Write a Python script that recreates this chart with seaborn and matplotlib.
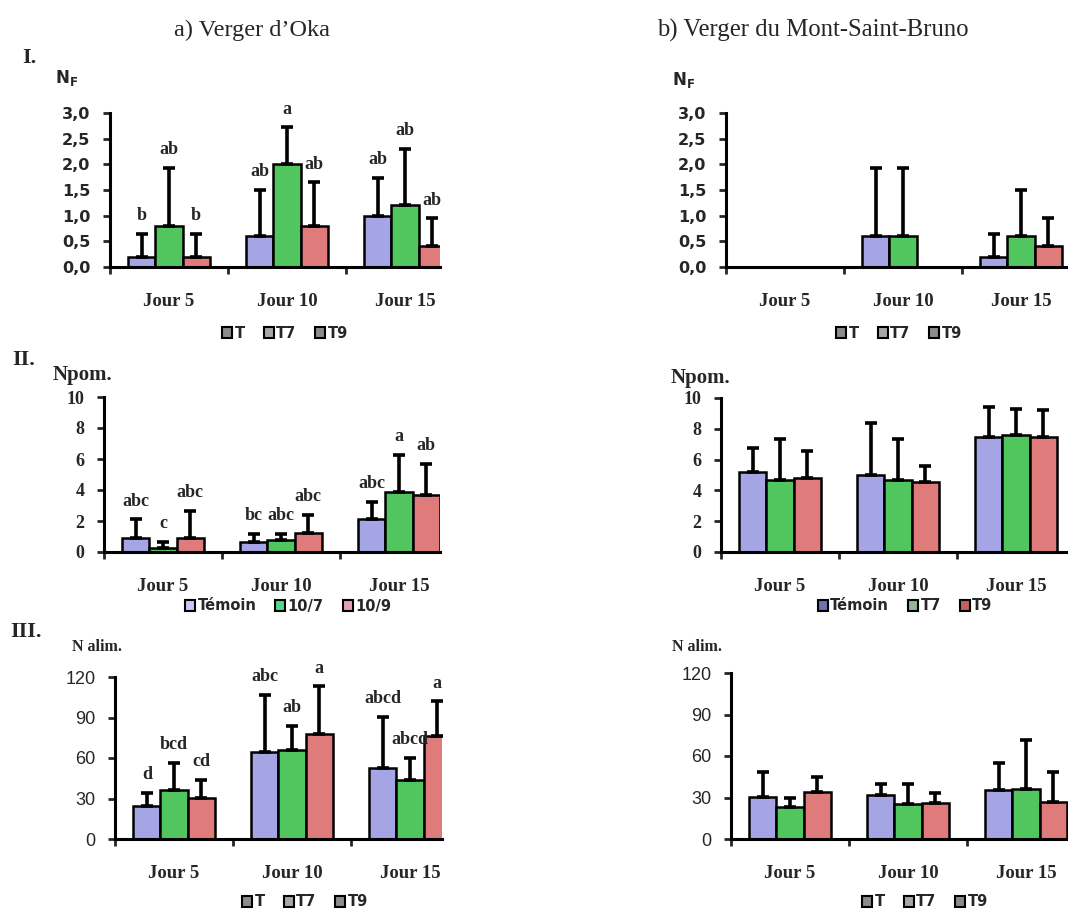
import numpy as np
import pandas as pd
import matplotlib
matplotlib.use("Agg")
import matplotlib.pyplot as plt
from matplotlib.patches import Patch
from matplotlib.ticker import FuncFormatter
import seaborn as sns

# categories / treatments
jours = ["Jour 5", "Jour 10", "Jour 15"]
trts = ["T", "T7", "T9"]

# I. N_F -- a) Oka
nf_oka_T = [0.2, 0.6, 1.0]
nf_oka_T7 = [0.8, 2.0, 1.2]
nf_oka_T9 = [0.2, 0.8, 0.4]
nf_oka_sd_T = [0.45, 0.9, 0.73]
nf_oka_sd_T7 = [1.13, 0.72, 1.1]
nf_oka_sd_T9 = [0.45, 0.85, 0.55]
nf_oka_letters = [["b", "ab", "ab"], ["ab", "a", "ab"], ["b", "ab", "ab"]]

# I. N_F -- b) Mont-Saint-Bruno
nf_msb_T = [0.0, 0.6, 0.2]
nf_msb_T7 = [0.0, 0.6, 0.6]
nf_msb_T9 = [0.0, 0.0, 0.4]
nf_msb_sd_T = [0.0, 1.33, 0.45]
nf_msb_sd_T7 = [0.0, 1.33, 0.9]
nf_msb_sd_T9 = [0.0, 0.0, 0.55]

# II. N pom. -- a) Oka
pom_oka_T = [0.9, 0.65, 2.1]
pom_oka_T7 = [0.25, 0.8, 3.87]
pom_oka_T9 = [0.9, 1.23, 3.66]
pom_oka_sd_T = [1.2, 0.53, 1.15]
pom_oka_sd_T7 = [0.4, 0.36, 2.4]
pom_oka_sd_T9 = [1.77, 1.16, 2.04]
pom_oka_letters = [["abc", "bc", "abc"], ["c", "abc", "a"], ["abc", "abc", "ab"]]

# II. N pom. -- b) Mont-Saint-Bruno
pom_msb_T = [5.17, 4.98, 7.45]
pom_msb_T7 = [4.7, 4.7, 7.62]
pom_msb_T9 = [4.83, 4.57, 7.45]
pom_msb_sd_T = [1.56, 3.4, 1.97]
pom_msb_sd_T7 = [2.66, 2.66, 1.67]
pom_msb_sd_T9 = [1.75, 0.99, 1.75]

# III. N alim. -- a) Oka
alim_oka_T = [24.7, 64.4, 52.6]
alim_oka_T7 = [36.5, 66.2, 44.0]
alim_oka_T9 = [30.1, 77.8, 76.5]
alim_oka_sd_T = [9.4, 42.3, 37.8]
alim_oka_sd_T7 = [19.8, 17.8, 16.0]
alim_oka_sd_T9 = [13.9, 35.2, 25.5]
alim_oka_letters = [["d", "abc", "abcd"], ["bcd", "ab", "abcd"], ["cd", "a", "a"]]

# III. N alim. -- b) Mont-Saint-Bruno
alim_msb_T = [30.2, 31.9, 35.3]
alim_msb_T7 = [23.0, 25.4, 36.5]
alim_msb_T9 = [34.0, 25.9, 27.1]
alim_msb_sd_T = [18.0, 8.1, 19.4]
alim_msb_sd_T7 = [7.0, 14.6, 35.0]
alim_msb_sd_T9 = [11.0, 7.0, 21.1]

y_ticks_nf = [0, 0.5, 1.0, 1.5, 2.0, 2.5, 3.0]
y_ticks_pom = [0, 2, 4, 6, 8, 10]
y_ticks_alim = [0, 30, 60, 90, 120]

legend_labels_t = ["T", "T7", "T9"]
legend_labels_oka = ["Témoin", "10/7", "10/9"]
legend_labels_msb = ["Témoin", "T7", "T9"]

colors = ["#9a9af0", "#3fd94f", "#f06a6a"]
W, H = 1068, 909
PX_PER_CAT = 118

sns.set_style("white")
plt.rcParams["font.family"] = ["DejaVu Sans"]

fig = plt.figure(figsize=(W / 100, H / 100), dpi=100)


def px_axes(left, top, bottom, right):
    return fig.add_axes([left / W, 1 - bottom / H, (right - left) / W, (bottom - top) / H])


def panel(box, means, sds, yticks, fmt, letters=None, tick_font=None):
    ax = px_axes(*box)
    df = pd.DataFrame({
        "jour": np.tile(jours, 3),
        "trt": np.repeat(trts, 3),
        "val": np.concatenate(means),
    })
    sns.barplot(data=df, x="jour", y="val", hue="trt", order=jours, hue_order=trts,
                palette=colors, width=0.69, gap=0, edgecolor="black", linewidth=1.8,
                errorbar=None, legend=False, ax=ax)
    bar_groups = list(ax.containers)
    for i, cont in enumerate(bar_groups):
        for j, bar in enumerate(cont):
            m, s = means[i][j], sds[i][j]
            xc = bar.get_x() + bar.get_width() / 2
            if s > 0:
                ax.errorbar(xc, m, yerr=[[0], [s]], fmt="none", ecolor="black",
                            elinewidth=2.6, capsize=4.5, capthick=2.6, clip_on=False)
            if letters is not None:
                ax.annotate(letters[i][j], (xc, m + s), xytext=(0, 7), textcoords="offset points",
                            ha="center", va="bottom", fontsize=13, fontweight="bold",
                            family="Liberation Serif", annotation_clip=False)
    left, top, bottom, right = box
    ax.set_xlim(-0.5, (right - left) / PX_PER_CAT - 0.5)
    ax.set_ylim(0, yticks[-1])
    ax.set_yticks(yticks)
    ax.yaxis.set_major_formatter(FuncFormatter(fmt))
    ax.set_xticks([0, 1, 2])
    ax.set_xticks([-0.5, 0.5, 1.5], minor=True)
    ax.set_xticklabels(jours, fontsize=13.5, fontweight="bold", family="Liberation Serif")
    ax.tick_params(axis="x", which="major", length=0, pad=19)
    ax.tick_params(axis="x", which="minor", length=5, width=2, direction="out", bottom=True)
    ax.tick_params(axis="y", length=5, width=2, direction="out", left=True, pad=9)
    tf = tick_font or dict(fontsize=11.5, fontweight="bold")
    for lab in ax.get_yticklabels():
        lab.set_fontsize(tf["fontsize"])
        lab.set_fontweight(tf["fontweight"])
        if "family" in tf:
            lab.set_family(tf["family"])
    for sp in ["top", "right"]:
        ax.spines[sp].set_visible(False)
    for sp in ["left", "bottom"]:
        ax.spines[sp].set_linewidth(2.2)
        ax.spines[sp].set_color("black")
    ax.set_xlabel("")
    ax.set_ylabel("")
    return ax


def add_legend(labels, cx, cy, fills):
    handles = [Patch(facecolor=f, edgecolor="black", linewidth=1.5) for f in fills]
    fig.legend(handles, labels, loc="center", bbox_to_anchor=(cx / W, 1 - cy / H), ncol=3,
               frameon=False, handlelength=0.7, handleheight=0.7, handletextpad=0.15,
               columnspacing=1.3, prop=dict(size=10.5, weight="bold"))


fmt_dec = lambda v, p: f"{v:.1f}".replace(".", ",")
fmt_int = lambda v, p: f"{v:.0f}"
serif_ticks = dict(fontsize=13, fontweight="bold", family="Liberation Serif")
plain_ticks = dict(fontsize=13, fontweight="normal", family="Liberation Sans")

# row I
panel((110, 113, 267, 440), [nf_oka_T, nf_oka_T7, nf_oka_T9],
      [nf_oka_sd_T, nf_oka_sd_T7, nf_oka_sd_T9], y_ticks_nf, fmt_dec,
      letters=nf_oka_letters)
panel((726, 113, 267, 1068), [nf_msb_T, nf_msb_T7, nf_msb_T9],
      [nf_msb_sd_T, nf_msb_sd_T7, nf_msb_sd_T9], y_ticks_nf, fmt_dec)

# row II
panel((104, 397, 552, 440), [pom_oka_T, pom_oka_T7, pom_oka_T9],
      [pom_oka_sd_T, pom_oka_sd_T7, pom_oka_sd_T9], y_ticks_pom, fmt_int,
      letters=pom_oka_letters, tick_font=serif_ticks)
panel((721, 398, 552, 1068), [pom_msb_T, pom_msb_T7, pom_msb_T9],
      [pom_msb_sd_T, pom_msb_sd_T7, pom_msb_sd_T9], y_ticks_pom, fmt_int,
      tick_font=serif_ticks)

# row III
panel((115, 677, 839, 442), [alim_oka_T, alim_oka_T7, alim_oka_T9],
      [alim_oka_sd_T, alim_oka_sd_T7, alim_oka_sd_T9], y_ticks_alim, fmt_int,
      letters=alim_oka_letters, tick_font=plain_ticks)
panel((731, 673, 839, 1068), [alim_msb_T, alim_msb_T7, alim_msb_T9],
      [alim_msb_sd_T, alim_msb_sd_T7, alim_msb_sd_T9], y_ticks_alim, fmt_int,
      tick_font=plain_ticks)

grey = ["#8c8c8c", "#a8a8a8", "#8c8c8c"]
add_legend(legend_labels_t, 285, 333, grey)
add_legend(legend_labels_t, 899, 333, grey)
add_legend(legend_labels_oka, 288, 606, ["#c8c8f4", "#50d890", "#e8a0b0"])
add_legend(legend_labels_msb, 905, 606, ["#7070b0", "#90b890", "#c06060"])
add_legend(legend_labels_t, 305, 902, grey)
add_legend(legend_labels_t, 925, 902, grey)

# titles, row labels, y labels
serif = "Liberation Serif"
fig.text(252 / W, 1 - 30 / H, "a) Verger d\u2019Oka", ha="center", va="center",
         fontsize=17.5, family=serif)
fig.text(813 / W, 1 - 30 / H, "b) Verger du Mont-Saint-Bruno", ha="center", va="center",
         fontsize=17.8, family=serif)
for txt, x, y in [("I.", 22, 58), ("II.", 12, 360), ("III.", 10, 632)]:
    fig.text(x / W, 1 - y / H, txt, ha="left", va="center", fontsize=16,
             fontweight="bold", family=serif)
for txt, x, y, fs in [(r"$\mathbf{N_F}$", 55, 78, 12), (r"$\mathbf{N_F}$", 672, 80, 12),
                      ("Npom.", 53, 375, 15), ("Npom.", 671, 378, 15),
                      ("N alim.", 72, 647, 11.5), ("N alim.", 672, 647, 11.5)]:
    fig.text(x / W, 1 - y / H, txt, ha="left", va="center", fontsize=fs,
             fontweight="bold", family=serif)

fig.savefig("out.png", dpi=100)
